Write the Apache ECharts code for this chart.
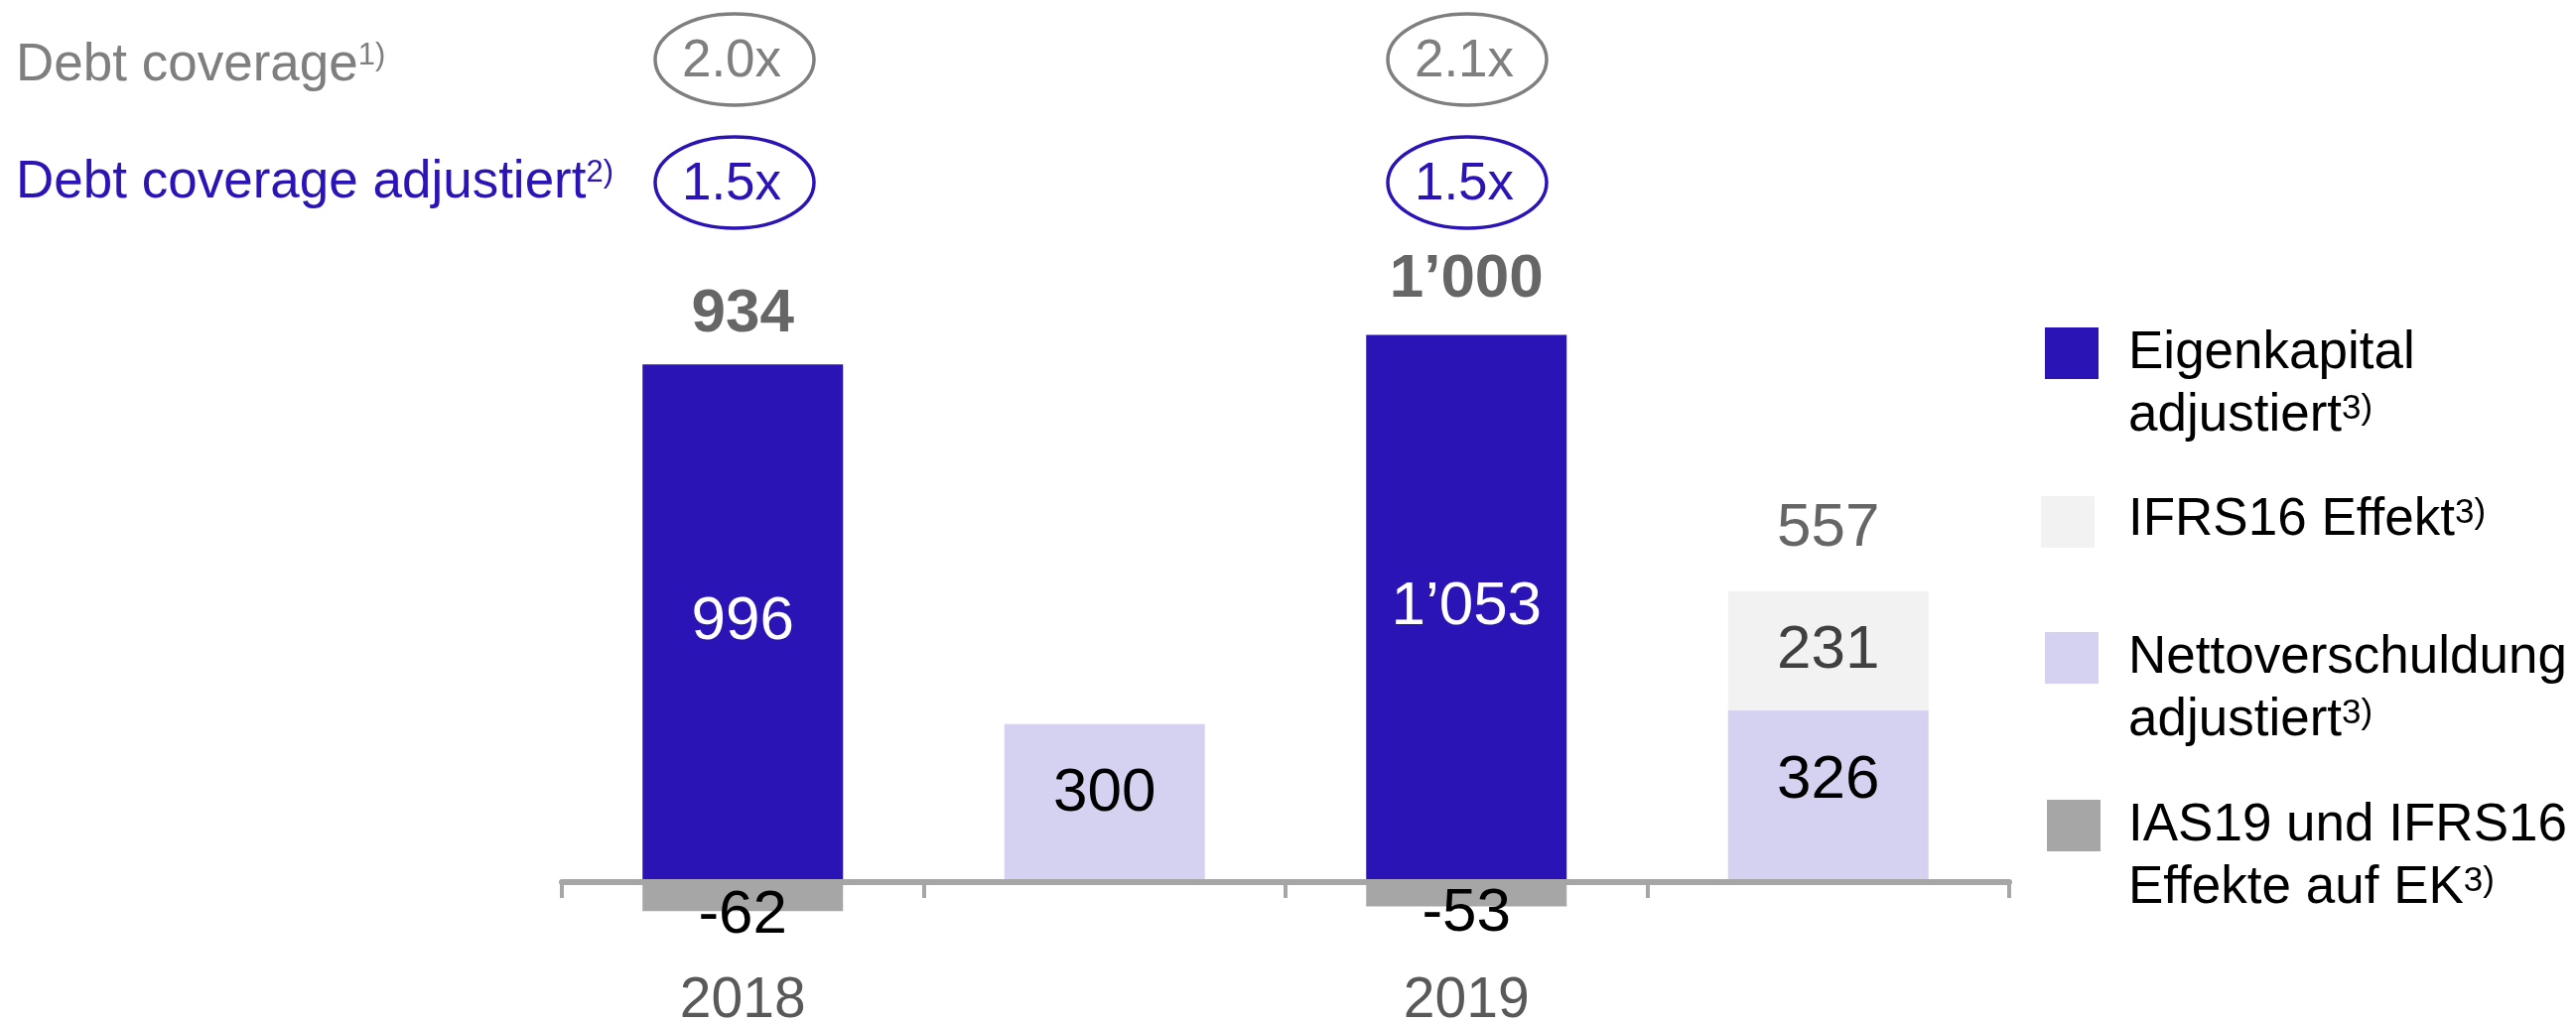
<!DOCTYPE html>
<html>
<head>
<meta charset="utf-8">
<script src="https://cdn.jsdelivr.net/npm/echarts@6/dist/echarts.min.js"></script>
<style>
html,body{margin:0;padding:0;background:#fff}
#main{width:2595px;height:1031px}
</style>
</head>
<body>
<div id="main"></div>
<script>
// Daten
var categories = ['2018', '', '2019', ''];
var eigenkapital = [996, null, 1053, null];
var nettoverschuldung = [null, 300, null, 326];
var ifrs16 = [null, null, null, 231];
var ias19 = [-62, null, -53, null];
var totals = [934, null, 1000, 557];
var debtCoverage = ['2.0x', '2.1x'];
var debtCoverageAdj = ['1.5x', '1.5x'];
var legendLabels = [
    'Eigenkapital\nadjustiert',
    'IFRS16 Effekt',
    'Nettoverschuldung\nadjustiert',
    'IAS19 und IFRS16\nEffekte auf EK'
];

var FONT = '"Liberation Sans", Arial, sans-serif';
var C_EK = '#2A14B5', C_ND = '#D5D1F0', C_IFRS = '#F2F2F2', C_IAS = '#A6A6A6';
var C_DARK = '#404040', C_GREY = '#7F7F7F';

function fmt(v) {
    return String(v).replace(/\B(?=(\d{3})+(?!\d))/g, '\u2019');
}
function toData(arr) {
    return arr.map(function (v) { return v === null ? '-' : v; });
}

// Oberkante des positiven Stapels je Kategorie (fuer die Summen-Labels)
var stackTop = categories.map(function (c, i) {
    return [eigenkapital[i], nettoverschuldung[i], ifrs16[i]].reduce(function (s, v) {
        return s + (v > 0 ? v : 0);
    }, 0);
});

// Text mit Hochzahl (rich text), Hochzahl per padding nach oben geschoben
function supText(label, sup) {
    var lines = label.split('\n');
    return lines.map(function (l, i) {
        return '{m|' + l + '}' + (i === lines.length - 1 ? '{s|' + sup + '}' : '');
    }).join('\n');
}
function richFor(color, supSize, supLift) {
    return {
        m: {fontSize: 53, fontFamily: FONT, lineHeight: 63, fill: color},
        s: {fontSize: supSize, fontFamily: FONT, padding: [0, 0, supLift, 0], fill: color}
    };
}

var graphics = [];
// Debt coverage Zeilen
graphics.push({
    type: 'text', x: 16, y: 66,
    style: {text: '{m|Debt coverage}{s|1)}', rich: richFor(C_GREY, 31, 19), textVerticalAlign: 'middle'}
});
graphics.push({
    type: 'text', x: 16, y: 184,
    style: {text: '{m|Debt coverage adjustiert}{s|2)}', rich: richFor(C_EK, 31, 19), textVerticalAlign: 'middle'}
});
// Ellipsen mit Kennzahlen
var ovalX = [740, 1478];
debtCoverage.forEach(function (v, i) {
    graphics.push({
        type: 'ellipse', shape: {cx: ovalX[i], cy: 60, rx: 80, ry: 46},
        style: {fill: null, stroke: C_GREY, lineWidth: 3.5}
    });
    graphics.push({
        type: 'text', x: ovalX[i] - 3, y: 62,
        style: {text: v, fill: C_GREY, fontSize: 53, fontFamily: FONT, textAlign: 'center', textVerticalAlign: 'middle'}
    });
});
debtCoverageAdj.forEach(function (v, i) {
    graphics.push({
        type: 'ellipse', shape: {cx: ovalX[i], cy: 184, rx: 80, ry: 46},
        style: {fill: null, stroke: C_EK, lineWidth: 3.5}
    });
    graphics.push({
        type: 'text', x: ovalX[i] - 3, y: 186,
        style: {text: v, fill: C_EK, fontSize: 53, fontFamily: FONT, textAlign: 'center', textVerticalAlign: 'middle'}
    });
});
// Legende
var legendColors = [C_EK, C_IFRS, C_ND, C_IAS];
var legendBoxes = [[2060, 330], [2056, 500], [2060, 637], [2062, 806]];
var legendTextY = [356, 524.5, 663.5, 832.5];
legendLabels.forEach(function (l, i) {
    graphics.push({
        type: 'rect', shape: {x: legendBoxes[i][0], y: legendBoxes[i][1], width: 54, height: 52},
        style: {fill: legendColors[i]}
    });
    graphics.push({
        type: 'text', x: 2144, y: legendTextY[i] - 31.5,
        style: {text: supText(l, '3)'), rich: richFor('#000', 35, 14), textVerticalAlign: 'top'}
    });
});

var labelBase = {show: true, fontSize: 62, fontFamily: FONT};

var option = {
    animation: false,
    backgroundColor: '#fff',
    grid: {left: 566, right: 571, top: 261, height: 628, outerBoundsMode: 'none', containLabel: false},
    xAxis: {
        type: 'category',
        data: categories,
        axisLine: {show: true, onZero: false, lineStyle: {color: '#A6A6A6', width: 6}},
        axisTick: {show: true, inside: false, length: 16, lineStyle: {color: '#A6A6A6', width: 4}},
        axisLabel: {interval: 0, color: '#595959', fontSize: 57, fontFamily: FONT, margin: 92},
        splitLine: {show: false}
    },
    yAxis: {type: 'value', min: -6, max: 1200, show: false},
    series: [
        {
            name: 'Eigenkapital adjustiert', type: 'bar', stack: 'a', barWidth: 202, clip: false,
            itemStyle: {color: C_EK},
            label: Object.assign({}, labelBase, {position: 'inside', color: '#fff',
                formatter: function (p) { return fmt(p.value); }}),
            data: toData(eigenkapital)
        },
        {
            name: 'Nettoverschuldung adjustiert', type: 'bar', stack: 'a', barWidth: 202, clip: false,
            itemStyle: {color: C_ND},
            label: Object.assign({}, labelBase, {position: 'inside', color: '#000',
                formatter: function (p) { return fmt(p.value); }}),
            data: nettoverschuldung.map(function (v, i) {
                if (v === null) return '-';
                return {value: v, label: {offset: [0, i === 3 ? -14 : -8]}};
            })
        },
        {
            name: 'IFRS16 Effekt', type: 'bar', stack: 'a', barWidth: 202, clip: false,
            itemStyle: {color: C_IFRS},
            label: Object.assign({}, labelBase, {position: 'inside', color: C_DARK,
                formatter: function (p) { return fmt(p.value); }}),
            data: toData(ifrs16)
        },
        {
            name: 'IAS19 und IFRS16 Effekte auf EK', type: 'bar', stack: 'a', barWidth: 202, clip: false,
            itemStyle: {color: C_IAS},
            label: Object.assign({}, labelBase, {position: 'inside', color: '#000', offset: [0, 21],
                formatter: function (p) { return fmt(p.value); }}),
            data: toData(ias19)
        },
        {
            name: 'Summe', type: 'scatter', symbolSize: 1, clip: false,
            itemStyle: {color: 'rgba(0,0,0,0)'},
            label: Object.assign({}, labelBase, {position: 'top', distance: 19, color: C_DARK}),
            data: totals.map(function (t, i) {
                if (t === null) return null;
                return {
                    value: [i, stackTop[i]],
                    label: {
                        formatter: fmt(t),
                        fontWeight: i === 3 ? 'normal' : 'bold',
                        offset: [0, i === 0 ? 0 : (i === 2 ? -5 : -12)]
                    }
                };
            }).filter(function (d) { return d !== null; })
        }
    ],
    graphic: graphics
};

var chart = echarts.init(document.getElementById('main'));
chart.setOption(option);
</script>
</body>
</html>
